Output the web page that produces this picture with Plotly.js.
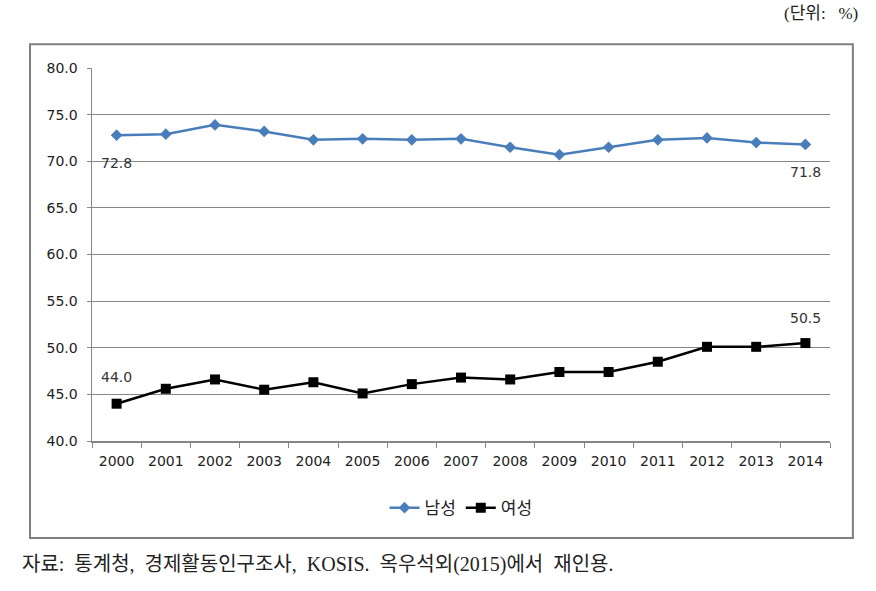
<!DOCTYPE html>
<html>
<head>
<meta charset="utf-8">
<script src="https://cdn.plot.ly/plotly-3.0.1.min.js"></script>
<style>
  body { margin: 0; background: #fff; }
  #chart { width: 876px; height: 591px; }
</style>
</head>
<body>
<div id="chart"></div>
<script>
var years = ["2000","2001","2002","2003","2004","2005","2006","2007","2008","2009","2010","2011","2012","2013","2014"];
var male = [72.8, 72.9, 73.9, 73.2, 72.3, 72.4, 72.3, 72.4, 71.5, 70.7, 71.5, 72.3, 72.5, 72.0, 71.8];
var female = [44.0, 45.6, 46.6, 45.5, 46.3, 45.1, 46.1, 46.8, 46.6, 47.4, 47.4, 48.5, 50.1, 50.1, 50.5];
var yTicks = [40, 45, 50, 55, 60, 65, 70, 75, 80];

var gray = "#868686";
var last = years.length - 1;
var sp = "\u00a0\u00a0";

var traceMale = {
  x: years, y: male, name: "남성", type: "scatter", mode: "lines+markers",
  line: { color: "#4a7ebb", width: 2.5 },
  marker: { symbol: "diamond", size: 9, color: "#4a7ebb" }
};
var traceFemale = {
  x: years, y: female, name: "여성", type: "scatter", mode: "lines+markers",
  line: { color: "#000000", width: 2.5 },
  marker: { symbol: "square", size: 10, color: "#000000" }
};

// data label next to a point (x given as category index)
function label(i, arr, shift) {
  return {
    x: i, y: arr[i], xref: "x", yref: "y",
    text: arr[i].toFixed(1), showarrow: false, yshift: shift,
    font: { family: "DejaVu Sans, Verdana, sans-serif", size: 14, color: "#333" }
  };
}

var layout = {
  width: 876, height: 591,
  margin: { l: 92, r: 46, t: 68, b: 150 },
  paper_bgcolor: "#fff", plot_bgcolor: "#fff",
  font: { family: "DejaVu Sans, Verdana, sans-serif", size: 14, color: "#222" },
  showlegend: true,
  legend: {
    orientation: "h", x: 0.5, xanchor: "center", y: -0.18, yanchor: "middle",
    font: { family: "Noto Sans CJK KR, sans-serif", size: 17, color: "#222" }
  },
  xaxis: {
    type: "category", range: [-0.5, 14.5], fixedrange: true,
    showline: true, linecolor: gray, linewidth: 1.5,
    ticks: "outside", tickson: "boundaries", ticklen: 5, tickcolor: gray,
    showgrid: false, zeroline: false, ticklabelstandoff: 7
  },
  yaxis: {
    range: [40, 80], tickvals: yTicks, ticktext: yTicks.map(function (v) { return v.toFixed(1); }),
    showline: true, linecolor: gray, linewidth: 1.5,
    ticks: "outside", ticklen: 4, tickcolor: gray,
    showgrid: true, gridcolor: gray, gridwidth: 1, zeroline: false,
    ticklabelstandoff: 6
  },
  shapes: [
    { type: "rect", xref: "paper", yref: "paper", x0: -0.084, x1: 1.031, y0: -0.26, y1: 1.064,
      line: { color: "#7f7f7f", width: 2 }, fillcolor: "rgba(0,0,0,0)", layer: "below" }
  ],
  annotations: [
    label(0, male, -28), label(last, male, -28),
    label(0, female, 27), label(last, female, 25),
    { xref: "paper", yref: "paper", x: 1.04, y: 1.145, xanchor: "right", yanchor: "middle",
      text: "(단위:" + "\u00a0\u00a0\u00a0" + "%)", showarrow: false,
      font: { family: "Liberation Serif, Noto Sans CJK KR, serif", size: 17, color: "#222" } },
    { xref: "paper", yref: "paper", x: -0.098, y: -0.33, xanchor: "left", yanchor: "middle",
      text: "자료:" + sp + "통계청," + sp + "경제활동인구조사," + sp + "KOSIS." + sp + "옥우석외(2015)에서" + sp + "재인용.",
      showarrow: false,
      font: { family: "Liberation Serif, Noto Sans CJK KR, serif", size: 20, color: "#222" } }
  ]
};

Plotly.newPlot("chart", [traceMale, traceFemale], layout, { displayModeBar: false, staticPlot: true });
</script>
</body>
</html>
